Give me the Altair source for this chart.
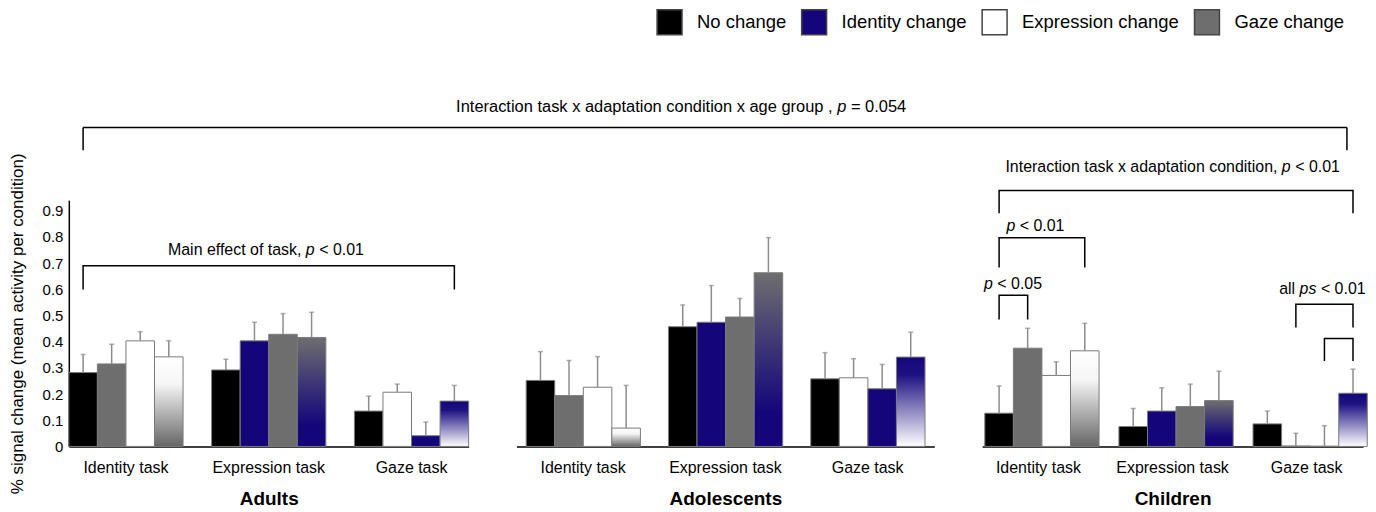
import altair as alt
import pandas as pd

FONT = "Liberation Sans"

PANELS = ["Adults", "Adolescents", "Children"]
TASKS = ["Identity task", "Expression task", "Gaze task"]
POSITIONS = [1, 2, 3, 4]

FILL_IDENTITY_TASK = ["No change", "Gaze change", "Expression change", "grad_wg"]
FILL_EXPRESSION_TASK = ["No change", "Identity change", "Gaze change", "grad_gb"]
FILL_GAZE_TASK = ["No change", "Expression change", "Identity change", "grad_bw"]

LEGEND_LABELS = ["No change", "Identity change", "Expression change", "Gaze change"]
LEGEND_COLORS = ["#000000", "#14067a", "#ffffff", "#6e6e6e"]

# means, ordered Identity task (4 bars), Expression task (4), Gaze task (4)
ADULTS_MEAN = [0.282, 0.315, 0.403, 0.342, 0.292, 0.403, 0.428, 0.416, 0.135, 0.207, 0.041, 0.173]
ADULTS_SE = [0.069, 0.075, 0.035, 0.061, 0.041, 0.071, 0.079, 0.096, 0.057, 0.031, 0.052, 0.060]
ADOLESCENTS_MEAN = [0.252, 0.194, 0.226, 0.070, 0.457, 0.474, 0.494, 0.663, 0.258, 0.262, 0.220, 0.341]
ADOLESCENTS_SE = [0.110, 0.134, 0.117, 0.163, 0.083, 0.140, 0.071, 0.134, 0.100, 0.073, 0.093, 0.095]
CHILDREN_MEAN = [0.127, 0.375, 0.271, 0.365, 0.076, 0.135, 0.152, 0.175, 0.086, 0.002, 0.001, 0.203]
CHILDREN_SE = [0.104, 0.076, 0.052, 0.105, 0.069, 0.089, 0.086, 0.112, 0.049, 0.048, 0.078, 0.092]

Y_TICKS = [0, 0.1, 0.2, 0.3, 0.4, 0.5, 0.6, 0.7, 0.8, 0.9]
Y_TITLE = "% signal change (mean activity per condition)"

# brackets: (panel, bracket id, [(task, position, y), ...])
BRACKETS = [
    ("Adults", "main", [("Identity task", 1, 0.599), ("Identity task", 1, 0.690), ("Gaze task", 4, 0.690), ("Gaze task", 4, 0.599)]),
    ("Children", "inter", [("Identity task", 1, 0.890), ("Identity task", 1, 0.977), ("Gaze task", 4, 0.977), ("Gaze task", 4, 0.890)]),
    ("Children", "p01", [("Identity task", 1, 0.683), ("Identity task", 1, 0.797), ("Identity task", 4, 0.797), ("Identity task", 4, 0.683)]),
    ("Children", "p05", [("Identity task", 1, 0.485), ("Identity task", 1, 0.577), ("Identity task", 2, 0.577), ("Identity task", 2, 0.485)]),
    ("Children", "gz1", [("Gaze task", 2, 0.454), ("Gaze task", 2, 0.543), ("Gaze task", 4, 0.543), ("Gaze task", 4, 0.454)]),
    ("Children", "gz2", [("Gaze task", 3, 0.326), ("Gaze task", 3, 0.412), ("Gaze task", 4, 0.412), ("Gaze task", 4, 0.326)]),
]

# annotations: (panel, prefix, italic, suffix, task, position or None, y, extra dx)
ANNOTATIONS = [
    ("Adults", "Main effect of task, ", "p", " < 0.01", "Expression task", None, 0.751, -3),
    ("Children", "Interaction task x adaptation condition, ", "p", " < 0.01", "Expression task", None, 1.065, 0),
    ("Children", "", "p", " < 0.01", "Identity task", None, 0.840, -3),
    ("Children", "", "p", " < 0.05", "Identity task", 1, 0.619, 14),
    ("Children", "all ", "ps", " < 0.01", "Gaze task", 3, 0.599, -2),
]
TOP_TEXT = ("Interaction task x adaptation condition x age group , ", "p", " = 0.054")

# layout
PANEL_W = {"Adults": 401, "Adolescents": 419, "Children": 382}
PANEL_PO = {"Adults": 0.0, "Adolescents": 0.068, "Children": 0.02}
PAD_INNER = 0.2
PANEL_H = 247
SPACING = 48
HEADER_H = 180

CW = {" ": 278, ",": 278, ".": 278, "<": 584, "=": 584, "a": 556, "b": 556, "c": 500, "d": 556,
      "e": 556, "f": 278, "g": 556, "h": 556, "i": 222, "k": 500, "l": 222, "m": 833, "n": 556,
      "o": 556, "p": 556, "r": 333, "s": 500, "t": 278, "u": 556, "v": 500, "x": 500, "y": 500,
      "I": 278, "M": 833}


def tw(s, size):
    return sum(CW.get(c, 556) for c in s) / 1000.0 * size


def piece_offsets(prefix, ital, suffix, size):
    """Offsets (relative to the centre) of the three pieces, spaces kept in the layout."""
    wp, wi, ws = tw(prefix, size), tw(ital, size), tw(suffix, size)
    start = -(wp + wi + ws) / 2.0
    lead = len(suffix) - len(suffix.lstrip(" "))
    return (start + tw(prefix.rstrip(" "), size),
            start + wp,
            start + wp + wi + tw(" " * lead, size))


MEANS = {"Adults": ADULTS_MEAN, "Adolescents": ADOLESCENTS_MEAN, "Children": CHILDREN_MEAN}
SES = {"Adults": ADULTS_SE, "Adolescents": ADOLESCENTS_SE, "Children": CHILDREN_SE}
FILLS = {"Identity task": FILL_IDENTITY_TASK, "Expression task": FILL_EXPRESSION_TASK, "Gaze task": FILL_GAZE_TASK}

rows = []
for p in PANELS:
    for ti, t in enumerate(TASKS):
        for pi, pos in enumerate(POSITIONS):
            m = MEANS[p][ti * 4 + pi]
            s = SES[p][ti * 4 + pi]
            rows.append({"panel": p, "task": t, "pos": pos, "mean": m, "top": m + s, "fill": FILLS[t][pi]})
df = pd.DataFrame(rows)

brows = []
for p, bid, pts in BRACKETS:
    for k, (t, pos, yv) in enumerate(pts):
        brows.append({"panel": p, "bid": bid, "task": t, "pos": pos, "y": yv, "ord": k})
bdf = pd.DataFrame(brows)

GRADIENTS = {
    "grad_wg": [("#ffffff", 0), ("#f6f6f6", 0.3), ("#666666", 1)],
    "grad_gb": [("#6e6e6e", 0), ("#3a3276", 0.45), ("#14067a", 0.8), ("#14067a", 1)],
    "grad_bw": [("#14067a", 0), ("#1e1282", 0.2), ("#ffffff", 1)],
}

BAR_STROKE = "#7a7a7a"
ERR_COLOR = "#8c8c8c"


def xenc(panel):
    return alt.X("task:N", scale=alt.Scale(domain=TASKS, paddingInner=PAD_INNER, paddingOuter=PANEL_PO[panel]),
                 axis=alt.Axis(title=panel, labelFontSize=16, titleFontSize=19, titleFontWeight="bold",
                               labelPadding=13, titlePadding=14, ticks=False, domainWidth=1.5,
                               domainColor="#000000", labelAngle=0, labelColor="#000000",
                               titleColor="#000000"))


def xoenc():
    return alt.XOffset("pos:O", scale=alt.Scale(domain=POSITIONS, paddingInner=0, paddingOuter=0))


def yenc(panel, field):
    if panel == "Adults":
        ax = alt.Axis(title=Y_TITLE, values=Y_TICKS, format=".1~f", labelFontSize=15, titleFontSize=17,
                      titleFontWeight="normal", ticks=False, tickSize=0, labelPadding=6, titlePadding=16,
                      domainWidth=1.5, domainColor="#000000", grid=False, labelColor="#000000",
                      titleColor="#000000")
    else:
        ax = None
    return alt.Y(field, scale=alt.Scale(domain=[0, 0.94], nice=False, zero=True), axis=ax)


def text_layers(panel, prefix, ital, suffix, task, pos, yv, extra, size=16):
    o1, o2, o3 = piece_offsets(prefix, ital, suffix, size)
    d = pd.DataFrame([{"task": task, "pos": pos if pos is not None else 1, "y": yv}])
    enc = {"x": xenc(panel), "y": yenc(panel, "y:Q")}
    if pos is not None:
        enc["xOffset"] = xoenc()
    layers = []
    if prefix.strip():
        layers.append(alt.Chart(d).mark_text(align="right", baseline="middle", fontSize=size, dx=o1 + extra,
                                             color="#000000").encode(text=alt.value(prefix.strip()), **enc))
    layers.append(alt.Chart(d).mark_text(align="left", baseline="middle", fontSize=size, dx=o2 + extra,
                                         fontStyle="italic", color="#000000").encode(text=alt.value(ital), **enc))
    layers.append(alt.Chart(d).mark_text(align="left", baseline="middle", fontSize=size, dx=o3 + extra,
                                         color="#000000").encode(text=alt.value(suffix.strip()), **enc))
    return layers


def panel_chart(panel):
    d = df[df.panel == panel]
    base = alt.Chart(d).encode(x=xenc(panel), xOffset=xoenc())
    layers = []
    solid = base.mark_bar(stroke=BAR_STROKE, strokeWidth=1).encode(
        y=yenc(panel, "mean:Q"),
        color=alt.Color("fill:N", scale=alt.Scale(domain=LEGEND_LABELS, range=LEGEND_COLORS),
                        legend=alt.Legend(title=None, orient="none", legendX=589, legendY=0,
                                          direction="horizontal", columns=4, symbolType="square",
                                          symbolSize=625, symbolStrokeColor="#444444",
                                          symbolStrokeWidth=1.5, symbolOpacity=1, labelFontSize=18.5,
                                          labelFont=FONT, labelOffset=14, columnPadding=12,
                                          labelLimit=0, labelColor="#000000", padding=0)),
    ).transform_filter(alt.FieldOneOfPredicate(field="fill", oneOf=LEGEND_LABELS))
    layers.append(solid)
    for g, stops in GRADIENTS.items():
        grad = alt.Gradient(gradient="linear", x1=0, y1=0, x2=0, y2=1,
                            stops=[alt.GradientStop(color=c, offset=o) for c, o in stops])
        layers.append(base.mark_bar(color=grad, stroke=BAR_STROKE, strokeWidth=1).encode(
            y=yenc(panel, "mean:Q")).transform_filter(alt.datum.fill == g))
    layers.append(base.mark_rule(color=ERR_COLOR, strokeWidth=1.5).encode(
        y=yenc(panel, "mean:Q"), y2="top:Q"))
    layers.append(base.mark_tick(color=ERR_COLOR, thickness=1.5, size=5).encode(y=yenc(panel, "top:Q")))
    bd = bdf[bdf.panel == panel]
    if len(bd):
        layers.append(alt.Chart(bd).mark_line(color="#000000", strokeWidth=1.5).encode(
            x=xenc(panel), xOffset=xoenc(), y=yenc(panel, "y:Q"), detail="bid:N", order="ord:Q"))
    for a in ANNOTATIONS:
        if a[0] == panel:
            layers.extend(text_layers(*a))
    return alt.layer(*layers).properties(width=PANEL_W[panel], height=PANEL_H)


# header with the across-panel bracket (positions derived from panel layout)
def bar_center(panel, task_index, pos_index, x0):
    w = PANEL_W[panel]
    po = PANEL_PO[panel]
    step = w / (len(TASKS) - PAD_INNER + 2 * po)
    band = step * (1 - PAD_INNER)
    return x0 + po * step + task_index * step + band * (pos_index + 0.5) / 4.0


x_children = PANEL_W["Adults"] + SPACING + PANEL_W["Adolescents"] + SPACING
left_x = bar_center("Adults", 0, 0, 0)
right_x = bar_center("Children", 2, 3, x_children)
TOTAL_W = x_children + PANEL_W["Children"]

hd = pd.DataFrame({"k": [0]})
hdr_layers = [
    alt.Chart(hd).mark_rule(color="#000000", strokeWidth=1.5).encode(x=alt.value(left_x), y=alt.value(119), y2=alt.value(142)),
    alt.Chart(hd).mark_rule(color="#000000", strokeWidth=1.5).encode(x=alt.value(right_x), y=alt.value(119), y2=alt.value(142)),
    alt.Chart(hd).mark_rule(color="#000000", strokeWidth=1.5).encode(x=alt.value(left_x), x2=alt.value(right_x), y=alt.value(119)),
]
pre, it, suf = TOP_TEXT
TOP_SIZE = 16.5
h1, h2, h3 = piece_offsets(pre, it, suf, TOP_SIZE)
cx = 614
hdr_layers += [
    alt.Chart(hd).mark_text(align="right", baseline="middle", fontSize=TOP_SIZE, color="#000000").encode(
        x=alt.value(cx + h1), y=alt.value(99), text=alt.value(pre.strip())),
    alt.Chart(hd).mark_text(align="left", baseline="middle", fontSize=TOP_SIZE, fontStyle="italic", color="#000000").encode(
        x=alt.value(cx + h2), y=alt.value(99), text=alt.value(it)),
    alt.Chart(hd).mark_text(align="left", baseline="middle", fontSize=TOP_SIZE, color="#000000").encode(
        x=alt.value(cx + h3), y=alt.value(99), text=alt.value(suf.strip())),
]
header = alt.layer(*hdr_layers).properties(width=TOTAL_W, height=HEADER_H)

row = alt.hconcat(*[panel_chart(p) for p in PANELS], spacing=SPACING, bounds="flush")

chart = alt.vconcat(header, row, spacing=12, bounds="flush").properties(padding=0).configure(
    font=FONT).configure_view(stroke=None).configure_text(font=FONT)

chart.save("out.html", embed_options={"renderer": "svg", "actions": False})
